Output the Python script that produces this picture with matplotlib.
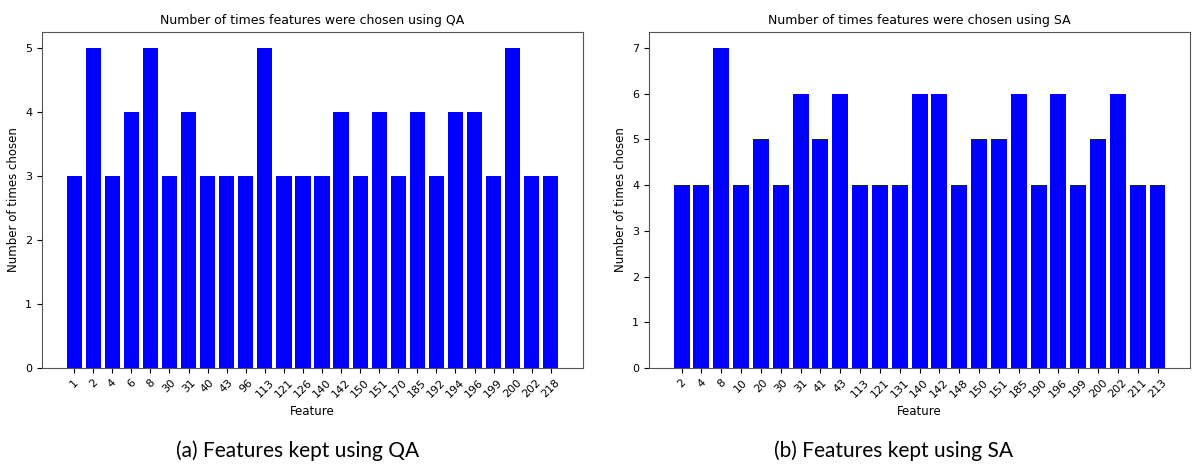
import matplotlib
matplotlib.use("Agg")
import matplotlib.pyplot as plt

qa_features = ["1", "2", "4", "6", "8", "30", "31", "40", "43", "96", "113", "121", "126",
               "140", "142", "150", "151", "170", "185", "192", "194", "196", "199", "200",
               "202", "218"]
qa_counts = [3, 5, 3, 4, 5, 3, 4, 3, 3, 3, 5, 3, 3, 3, 4, 3, 4, 3, 4, 3, 4, 4, 3, 5, 3, 3]

sa_features = ["2", "4", "8", "10", "20", "30", "31", "41", "43", "113", "121", "131", "140",
               "142", "148", "150", "151", "185", "190", "196", "199", "200", "202", "211",
               "213"]
sa_counts = [4, 4, 7, 4, 5, 4, 6, 5, 6, 4, 4, 4, 6, 6, 4, 5, 5, 6, 4, 6, 4, 5, 6, 4, 4]

fig = plt.figure(figsize=(11.92, 4.72), dpi=100)
ax1 = fig.add_axes([0.0352, 0.2203, 0.4539, 0.7119])
ax2 = fig.add_axes([0.5445, 0.2203, 0.4539, 0.7119])

panels = [
    (ax1, qa_features, qa_counts, "QA", "(a) Features kept using QA", 0.25),
    (ax2, sa_features, sa_counts, "SA", "(b) Features kept using SA", 0.75),
]
for ax, feats, counts, name, caption, cx in panels:
    ax.bar(feats, counts, color="blue")
    ax.set_title("Number of times features were chosen using " + name, fontsize=9)
    ax.set_xlabel("Feature", fontsize=8.5)
    ax.set_ylabel("Number of times chosen", fontsize=8.5)
    ax.tick_params(axis="x", labelrotation=45, labelsize=8)
    ax.tick_params(axis="y", labelsize=8)
    for s in ax.spines.values():
        s.set_color("#555555")
    fig.text(cx, 0.045, caption, ha="center", va="center",
             fontsize=15, family="Lato")

fig.savefig("out.png", dpi=100)
